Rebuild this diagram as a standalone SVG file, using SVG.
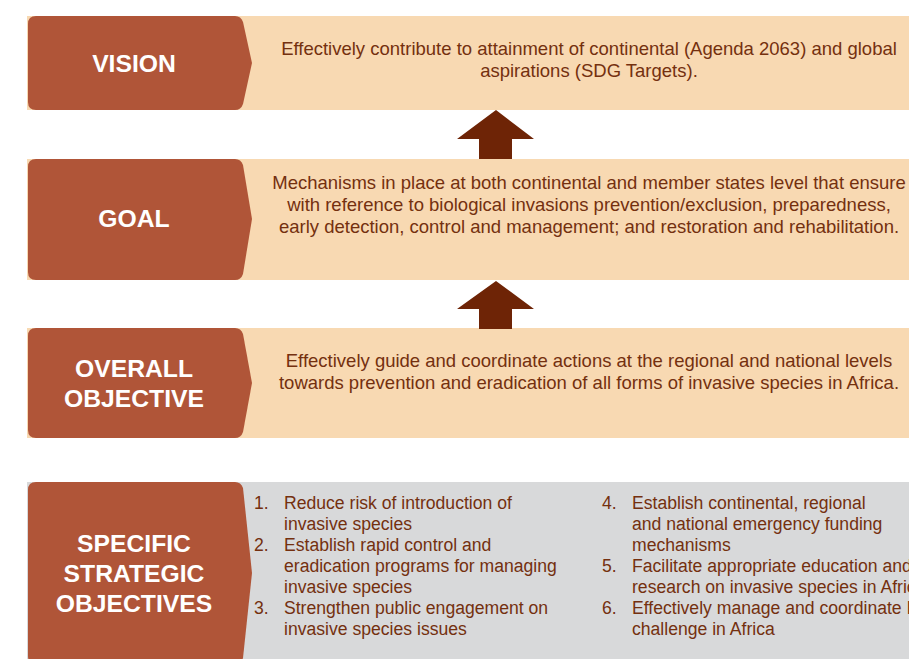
<svg xmlns="http://www.w3.org/2000/svg" width="909" height="659" viewBox="0 0 909 659">
<style>
.lbl{font-family:"Liberation Sans",Arial,Helvetica,sans-serif;font-weight:bold;font-size:24.7px;fill:#ffffff;text-anchor:middle}
.body{font-family:"Liberation Sans",Arial,Helvetica,sans-serif;font-size:18.5px;fill:#74300f;text-anchor:middle}
.li{font-family:"Liberation Sans",Arial,Helvetica,sans-serif;font-size:17.6px;fill:#74300f}
.peach{fill:#f8d9b2}
.grey{fill:#d8d9da}
.tab{fill:#b05538}
.arrow{fill:#6e2406}
</style>
<rect width="909" height="659" fill="#ffffff"/>
<g id="vision">
<rect class="peach" x="27" y="16" width="882" height="94"/>
<path class="tab" d="M36,16 H235 Q241,16 243,22 L252,63 L243,104 Q241,110 235,110 H36 Q28,110 28,102 V24 Q28,16 36,16 Z"/>
<text class="lbl" x="134" y="72">VISION</text>
<text class="body" x="589" y="55">Effectively contribute to attainment of continental (Agenda 2063) and global</text>
<text class="body" x="589" y="77">aspirations (SDG Targets).</text>
</g>
<g id="goal">
<rect class="peach" x="27" y="159" width="882" height="121"/>
<path class="tab" d="M36,159 H235 Q241,159 243,165 L252,219 L243,274 Q241,280 235,280 H36 Q28,280 28,272 V167 Q28,159 36,159 Z"/>
<text class="lbl" x="134" y="227">GOAL</text>
<text class="body" x="589" y="189">Mechanisms in place at both continental and member states level that ensure</text>
<text class="body" x="589" y="211">with reference to biological invasions prevention/exclusion, preparedness,</text>
<text class="body" x="589" y="233">early detection, control and management; and restoration and rehabilitation.</text>
</g>
<g id="overall">
<rect class="peach" x="27" y="328" width="882" height="110"/>
<path class="tab" d="M36,328 H235 Q241,328 243,334 L252,383 L243,432 Q241,438 235,438 H36 Q28,438 28,430 V336 Q28,328 36,328 Z"/>
<text class="lbl" x="134" y="377">OVERALL</text>
<text class="lbl" x="134" y="407">OBJECTIVE</text>
<text class="body" x="589" y="367">Effectively guide and coordinate actions at the regional and national levels</text>
<text class="body" x="589" y="389">towards prevention and eradication of all forms of invasive species in Africa.</text>
</g>
<g id="specific">
<rect class="grey" x="27" y="482" width="882" height="177"/>
<path class="tab" d="M36,482 H235 Q241,482 243,488 L252,573 L243,658 Q241,664 235,664 H36 Q28,664 28,656 V490 Q28,482 36,482 Z"/>
<text class="lbl" x="134" y="552">SPECIFIC</text>
<text class="lbl" x="134" y="582">STRATEGIC</text>
<text class="lbl" x="134" y="612">OBJECTIVES</text>
<text class="li" x="254" y="509">1.</text>
<text class="li" x="284" y="509">Reduce risk of introduction of</text>
<text class="li" x="284" y="530">invasive species</text>
<text class="li" x="254" y="551">2.</text>
<text class="li" x="284" y="551">Establish rapid control and</text>
<text class="li" x="284" y="572">eradication programs for managing</text>
<text class="li" x="284" y="593">invasive species</text>
<text class="li" x="254" y="614">3.</text>
<text class="li" x="284" y="614">Strengthen public engagement on</text>
<text class="li" x="284" y="635">invasive species issues</text>
<text class="li" x="602" y="509">4.</text>
<text class="li" x="632" y="509">Establish continental, regional</text>
<text class="li" x="632" y="530">and national emergency funding</text>
<text class="li" x="632" y="551">mechanisms</text>
<text class="li" x="602" y="572">5.</text>
<text class="li" x="632" y="572">Facilitate appropriate education and</text>
<text class="li" x="632" y="593">research on invasive species in Africa</text>
<text class="li" x="602" y="614">6.</text>
<text class="li" x="632" y="614">Effectively manage and coordinate IAS</text>
<text class="li" x="632" y="635">challenge in Africa</text>
</g>
<g id="connectors">
<polygon class="arrow" points="496,110 534,139 512,139 512,159 479,159 479,139 457,139"/>
<polygon class="arrow" points="496,281 534,309 512,309 512,329 479,329 479,309 457,309"/>
</g>
</svg>
